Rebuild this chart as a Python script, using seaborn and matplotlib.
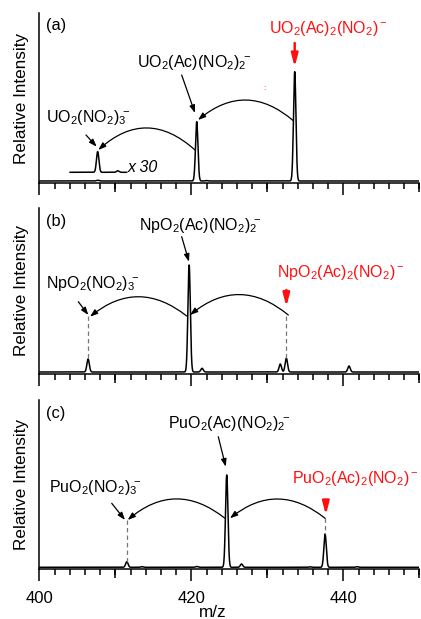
import numpy as np
import pandas as pd
import seaborn as sns
import matplotlib.pyplot as plt
from matplotlib.ticker import MultipleLocator

sns.set_theme(style="ticks")
plt.rcParams['font.family'] = ['Liberation Sans', 'DejaVu Sans']
plt.rcParams['mathtext.fontset'] = 'custom'
plt.rcParams['mathtext.rm'] = 'Liberation Sans'
plt.rcParams['mathtext.default'] = 'regular'
plt.rcParams['text.color'] = 'black'
plt.rcParams['axes.labelcolor'] = 'black'
plt.rcParams['xtick.color'] = 'black'
plt.rcParams['ytick.color'] = 'black'

# peak lists (m/z, height in arbitrary units)
mz_u = [407.66, 410.3, 420.7, 422.0, 433.6]
int_u = [0.69, 0.05, 59.3, 0.4, 109.3]
mz_np = [406.4, 419.7, 421.4, 431.7, 432.5, 440.75]
int_np = [13.0, 107.0, 3.7, 8.0, 13.7, 6.0]
mz_pu = [411.5, 413.5, 420.7, 424.65, 426.6, 435.6, 437.6, 441.8]
int_pu = [5.6, 0.6, 0.8, 92.3, 3.3, 0.5, 33.3, 0.6]

inset_range = (404.0, 411.5)
inset_factor = 30
inset_offset = 8.7

labels_u = [r"UO$_2$(NO$_2)_3\!{}^{-}$", r"UO$_2$(Ac)(NO$_2)_2\!{}^{-}$",
            r"UO$_2$(Ac)$_2$(NO$_2$)$^-$"]
labels_np = [r"NpO$_2$(NO$_2)_3\!{}^{-}$", r"NpO$_2$(Ac)(NO$_2)_2\!{}^{-}$",
             r"NpO$_2$(Ac)$_2$(NO$_2$)$^-$"]
labels_pu = [r"PuO$_2$(NO$_2)_3\!{}^{-}$", r"PuO$_2$(Ac)(NO$_2)_2\!{}^{-}$",
             r"PuO$_2$(Ac)$_2$(NO$_2$)$^-$"]

RED = '#ff1010'
sigma = 0.16
grid = np.linspace(398, 452, 5401)


def spectrum(centers, heights):
    y = np.zeros_like(grid)
    for c, h in zip(centers, heights):
        y += h * np.exp(-0.5 * ((grid - c) / sigma) ** 2)
    return pd.DataFrame({'mz': grid, 'intensity': y})


def arrow(ax, start, end, color='black', lw=0.9, ms=10, hl=0.45, hw=0.16, rad=None):
    cs = 'arc3' if rad is None else f'arc3,rad={rad}'
    ax.annotate('', xy=end, xytext=start,
                arrowprops=dict(arrowstyle=f'-|>,head_length={hl},head_width={hw}',
                                color=color, lw=lw, mutation_scale=ms,
                                shrinkA=0, shrinkB=0, connectionstyle=cs))


def red_arrow(ax, x, y0, y1):
    arrow(ax, (x, y0), (x, y1), color=RED, lw=1.8, ms=18, hl=0.42, hw=0.11)


def guide(ax, x, y0, y1):
    ax.plot([x, x], [y0, y1], color='#777777', lw=0.9, ls=(0, (3.5, 2.5)))


fig = plt.figure(figsize=(4.21, 6.19), dpi=100)
ax_a = fig.add_axes([0.0938, 0.7039, 0.9021, 0.2746])
ax_b = fig.add_axes([0.0938, 0.3966, 0.9021, 0.2669])
ax_c = fig.add_axes([0.0938, 0.0803, 0.9021, 0.2735])

for ax, mz, inten, ylim in [(ax_a, mz_u, int_u, (-2.3, 167.7)),
                            (ax_b, mz_np, int_np, (-1.5, 163.7)),
                            (ax_c, mz_pu, int_pu, (-2.0, 167.3))]:
    df = spectrum(mz, inten)
    sns.lineplot(data=df, x='mz', y='intensity', ax=ax, color='black', lw=1.1)
    ax.set_xlim(400, 450)
    ax.set_ylim(*ylim)
    ax.set_yticks([])
    ax.set_xticks([400, 420, 440])
    ax.xaxis.set_minor_locator(MultipleLocator(2))
    ax.tick_params(axis='x', which='major', length=8.6, width=1.1, direction='out',
                   pad=7, labelsize=12, color='black', labelcolor='black')
    ax.tick_params(axis='x', which='minor', length=4.3, width=1.1, direction='out',
                   color='black')
    sec = ax.secondary_xaxis('bottom')
    sec.set_xticks([410, 430, 450])
    sec.tick_params(length=6.5, width=1.1, direction='out', labelbottom=False, color='black')
    sec.spines['bottom'].set_visible(False)
    for s in ['top', 'right']:
        ax.spines[s].set_visible(False)
    for s in ['left', 'bottom']:
        ax.spines[s].set_linewidth(1.1)
        ax.spines[s].set_color('black')
    ax.set_xlabel('')
    ax.set_ylabel('Relative Intensity', fontsize=12.3, color='black')
    ax.yaxis.set_label_coords(-0.028, 0.5)
    ax.grid(False)

ax_a.tick_params(axis='x', labelbottom=False)
ax_b.tick_params(axis='x', labelbottom=False)
ax_c.set_xlabel('m/z', fontsize=12.3, color='black')
ax_c.xaxis.set_label_coords(0.457, -0.21)

txt = dict(fontsize=11.5, ha='center', va='baseline', color='black')

# (a) uranium, with x30 inset trace
df_u = spectrum(mz_u, int_u)
ins = df_u[(df_u['mz'] >= inset_range[0]) & (df_u['mz'] <= inset_range[1])].copy()
ins['intensity'] = inset_offset + inset_factor * ins['intensity']
sns.lineplot(data=ins, x='mz', y='intensity', ax=ax_a, color='black', lw=1.1)
ax_a.text(411.6, 9.3, 'x 30', fontsize=11.5, style='italic', va='baseline')
ax_a.text(400.82, 151, '(a)', fontsize=11.8, va='baseline')
ax_a.text(406.39, 59.3, labels_u[0], **txt)
ax_a.text(420.37, 114.3, labels_u[1], **txt)
ax_a.text(438.03, 147.7, labels_u[2], **{**txt, 'color': RED})
ax_a.text(429.56, 92, ':', color=RED, fontsize=6, ha='center', va='center')
arrow(ax_a, (406.12, 46), (mz_u[0] - 0.13, 34.3))
arrow(ax_a, (418.72, 106), (mz_u[2] - 0.23, 68))
red_arrow(ax_a, mz_u[4], 138, 114)
arrow(ax_a, (mz_u[4] - 0.18, 60.3), (mz_u[2] + 0.17, 61), rad=0.42)
arrow(ax_a, (mz_u[2] - 0.23, 31), (mz_u[0] + 0.08, 31), rad=0.45)

# (b) neptunium
ax_b.text(400.82, 146.3, '(b)', fontsize=11.8, va='baseline')
ax_b.text(406.98, 83.7, labels_np[0], **txt)
ax_b.text(421.24, 142, labels_np[1], **txt)
ax_b.text(439.67, 95.3, labels_np[2], **{**txt, 'color': RED})
arrow(ax_b, (405.11, 70.3), (mz_np[0] + 0.03, 57))
arrow(ax_b, (418.72, 135.3), (mz_np[1] - 0.02, 110.3))
red_arrow(ax_b, mz_np[4], 82, 65.3)
arrow(ax_b, (mz_np[1] - 0.32, 56), (mz_np[0] + 0.25, 55.3), rad=0.4)
arrow(ax_b, (mz_np[4] + 0.26, 57), (mz_np[1] + 0.12, 57), rad=0.41)
guide(ax_b, mz_np[0], 56, int_np[0])
guide(ax_b, mz_np[4], 56.3, int_np[4])

# (c) plutonium
ax_c.text(400.82, 149, '(c)', fontsize=11.8, va='baseline')
ax_c.text(407.41, 75.6, labels_pu[0], **txt)
ax_c.text(424.98, 139, labels_pu[1], **txt)
ax_c.text(449.9, 84, labels_pu[2], color=RED, fontsize=11.5, ha='right', va='baseline')
arrow(ax_c, (409.51, 64), (mz_pu[0] - 0.24, 47.3))
arrow(ax_c, (423.54, 130.6), (mz_pu[3] - 0.13, 100.6))
red_arrow(ax_c, mz_pu[6] + 0.1, 67.3, 52.3)
arrow(ax_c, (mz_pu[3] - 0.23, 49), (mz_pu[0] + 0.11, 47.3), rad=0.41)
arrow(ax_c, (mz_pu[6], 49), (mz_pu[3] + 0.43, 49), rad=0.4)
guide(ax_c, mz_pu[0], 47, int_pu[0])
guide(ax_c, mz_pu[6], 49, int_pu[6])

fig.savefig('out.png', dpi=100)
